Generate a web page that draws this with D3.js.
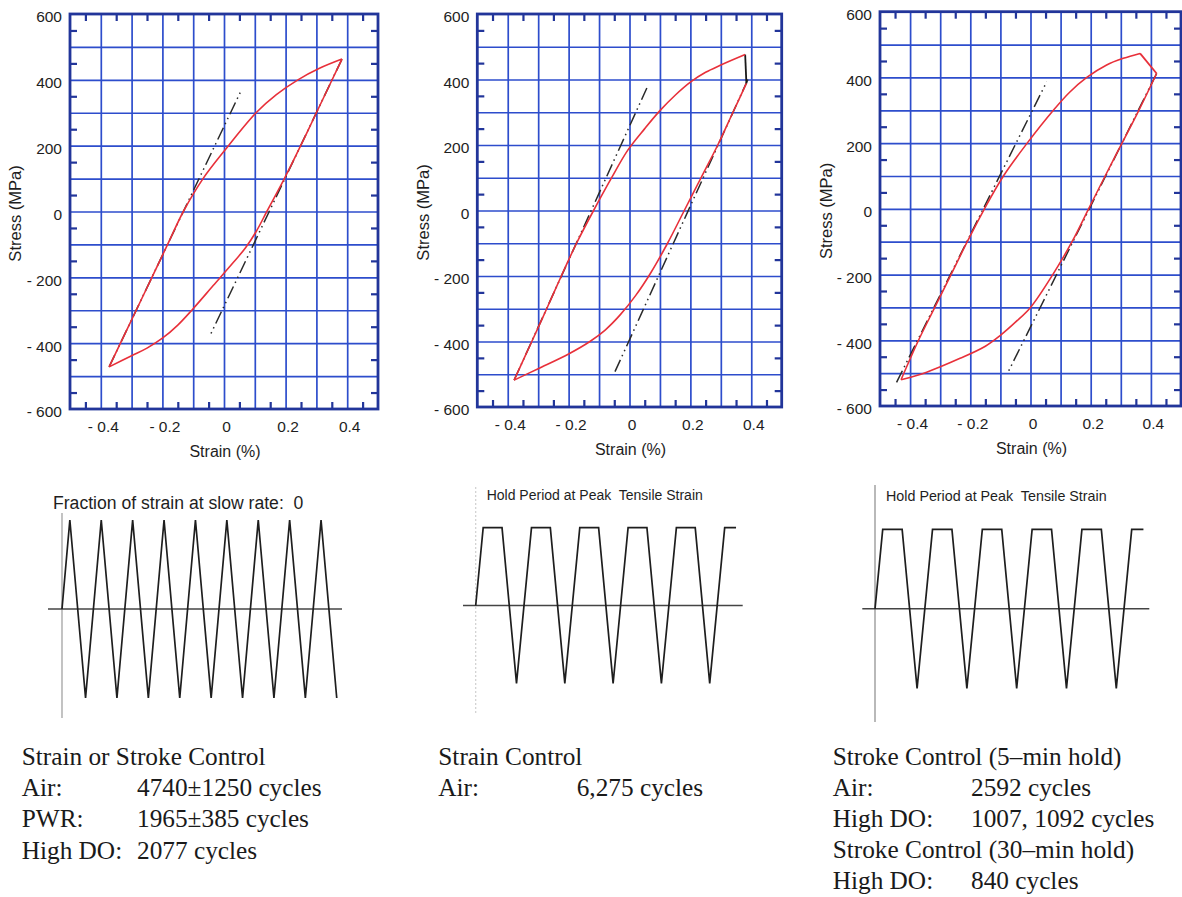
<!DOCTYPE html>
<html><head><meta charset="utf-8">
<script src="https://cdn.jsdelivr.net/npm/d3@7"></script>
<style>
html,body{margin:0;padding:0;background:#fff;}
svg{display:block;}
text{white-space:pre;}
</style></head>
<body>
<svg id="chart" width="1182" height="897"></svg>
<script>
// ---------------- DATA ----------------
const strainTicks = [-0.4, -0.2, 0, 0.2, 0.4];
const stressTicks = [-600, -400, -200, 0, 200, 400, 600];
const strainGrid = [-0.4, -0.3, -0.2, -0.1, 0, 0.1, 0.2, 0.3, 0.4];
const stressGrid = [-500, -400, -300, -200, -100, 0, 100, 200, 300, 400, 500];
const strainMinor = [-0.45, -0.35, -0.25, -0.15, -0.05, 0.05, 0.15, 0.25, 0.35, 0.45];
const stressMinor = [-550, -450, -350, -250, -150, -50, 50, 150, 250, 350, 450, 550];

// Panel 1: fully reversed, no hold
const loop1Loading = [[-0.373,-472],[-0.285,-300],[-0.234,-200],[-0.183,-100],[-0.132,0],[-0.068,100],[0,183],[0.104,300],[0.17,355],[0.24,400],[0.31,435],[0.383,463]];
const loop1Unloading = [[0.383,463],[0.3,300],[0.249,200],[0.196,100],[0.139,0],[0.105,-60],[0.07,-110],[0.03,-155],[-0.035,-225],[-0.101,-296],[-0.15,-345],[-0.2,-385],[-0.25,-415],[-0.3,-438],[-0.373,-472]];
const elastic1a = [[-0.373,-472],[0.057,370]];
const elastic1b = [[0.383,463],[-0.047,-380]];

// Panel 2: strain control, hold at peak tensile strain
const loop2Loading = [[-0.379,-518],[-0.321,-400],[-0.272,-300],[-0.224,-200],[-0.174,-100],[-0.118,0],[-0.06,98],[-0.005,185],[0.05,250],[0.1,305],[0.15,352],[0.2,392],[0.25,422],[0.3,444],[0.38,476]];
const loop2Hold = [[0.38,476],[0.384,388]];
const loop2Unloading = [[0.384,388],[0.34,300],[0.29,200],[0.235,100],[0.18,0],[0.125,-100],[0.07,-190],[0.02,-260],[-0.03,-318],[-0.08,-365],[-0.13,-400],[-0.2,-438],[-0.3,-483],[-0.379,-518]];
const elastic2a = [[-0.379,-518],[0.057,374]];
const elastic2b = [[0.389,400],[-0.053,-503]];

// Panel 3: stroke control, 5-min hold
const loop3Loading = [[-0.43,-520],[-0.372,-400],[-0.318,-300],[-0.264,-200],[-0.21,-100],[-0.153,0],[-0.09,100],[-0.011,200],[0.076,300],[0.13,355],[0.187,400],[0.253,438],[0.308,458],[0.364,473]];
const loop3Hold = [[0.364,473],[0.419,412]];
const loop3Unloading = [[0.419,412],[0.36,300],[0.304,200],[0.248,100],[0.193,0],[0.138,-100],[0.074,-200],[0,-300],[-0.05,-345],[-0.1,-385],[-0.15,-418],[-0.234,-455],[-0.345,-497],[-0.43,-520]];
const elastic3a = [[-0.445,-528],[0.054,387]];
const elastic3b = [[0.419,412],[-0.074,-496]];

// Waveforms (time in cycles, normalised strain)
const waveNoHold = [[0,0],[0.25,1],[0.75,-1],[1.25,1],[1.75,-1],[2.25,1],[2.75,-1],[3.25,1],[3.75,-1],[4.25,1],[4.75,-1],[5.25,1],[5.75,-1],[6.25,1],[6.75,-1],[7.25,1],[7.75,-1],[8.25,1],[8.75,-1]];
const waveHold = [[0,0],[0.155,1],[0.545,1],[0.845,-1],[1.155,1],[1.545,1],[1.845,-1],[2.155,1],[2.545,1],[2.845,-1],[3.155,1],[3.545,1],[3.845,-1],[4.155,1],[4.545,1],[4.845,-1],[5.155,1],[5.39,1]];

const waveTitles = ["Fraction of strain at slow rate:  0", "Hold Period at Peak  Tensile Strain", "Hold Period at Peak  Tensile Strain"];

const notes1 = [["Strain or Stroke Control",""],["Air:","4740\u00B11250 cycles"],["PWR:","1965\u00B1385 cycles"],["High DO:","2077 cycles"]];
const notes2 = [["Strain Control",""],["Air:","6,275 cycles"]];
const notes3 = [["Stroke Control (5\u2013min hold)",""],["Air:","2592 cycles"],["High DO:","1007, 1092 cycles"],["Stroke Control (30\u2013min hold)",""],["High DO:","840 cycles"]];

// ---------------- LAYOUT ----------------
const svg = d3.select("#chart");
const FRAME = "#22359a", GRID = "#2d4dcc", RED = "#e8303a", INK = "#1e1e1e";
const sans = "'Liberation Sans', Arial, Helvetica, sans-serif";
const serif = "'Liberation Serif', 'Times New Roman', serif";

const loopPanels = [
  {x0:70, x1:378, y0:14, y1:409, titleX:15, loading:loop1Loading, unloading:loop1Unloading, hold:null, holdColor:null, el:[elastic1a, elastic1b]},
  {x0:477.3, x1:781.7, y0:14, y1:407, titleX:423, loading:loop2Loading, unloading:loop2Unloading, hold:loop2Hold, holdColor:"#1a1a1a", el:[elastic2a, elastic2b]},
  {x0:880, x1:1181, y0:11.7, y1:406, titleX:826, loading:loop3Loading, unloading:loop3Unloading, hold:loop3Hold, holdColor:RED, el:[elastic3a, elastic3b]}
];

const fmtStrain = v => v < 0 ? "- " + Math.abs(v).toFixed(1) : (v === 0 ? "0" : v.toFixed(1));
const fmtStress = v => v < 0 ? "- " + Math.abs(v) : String(v);

loopPanels.forEach(p => {
  const x = d3.scaleLinear().domain([-0.5, 0.5]).range([p.x0, p.x1]);
  const y = d3.scaleLinear().domain([-600, 600]).range([p.y1, p.y0]);
  const W = p.x1 - p.x0, H = p.y1 - p.y0;
  const g = svg.append("g");

  // grid lines
  g.append("g").attr("transform", `translate(0,${p.y1})`)
    .call(d3.axisBottom(x).tickValues(strainGrid).tickSize(-H).tickFormat(""))
    .call(a => a.select(".domain").remove())
    .selectAll("line").attr("stroke", GRID).attr("stroke-width", 1.7);
  g.append("g").attr("transform", `translate(${p.x0},0)`)
    .call(d3.axisLeft(y).tickValues(stressGrid).tickSize(-W).tickFormat(""))
    .call(a => a.select(".domain").remove())
    .selectAll("line").attr("stroke", GRID).attr("stroke-width", 1.7);

  // minor ticks (inward on all sides)
  const minor = [
    [d3.axisBottom(x).tickValues(strainMinor), `translate(0,${p.y1})`],
    [d3.axisTop(x).tickValues(strainMinor), `translate(0,${p.y0})`],
    [d3.axisLeft(y).tickValues(stressMinor), `translate(${p.x0},0)`],
    [d3.axisRight(y).tickValues(stressMinor), `translate(${p.x1},0)`]
  ];
  minor.forEach(([ax, tr]) => {
    g.append("g").attr("transform", tr)
      .call(ax.tickSize(-7).tickFormat(""))
      .call(a => a.select(".domain").remove())
      .selectAll("line").attr("stroke", FRAME).attr("stroke-width", 2.2);
  });

  // frame
  g.append("rect").attr("x", p.x0).attr("y", p.y0).attr("width", W).attr("height", H)
    .attr("fill", "none").attr("stroke", FRAME).attr("stroke-width", 2.8);

  // tick labels
  const xl = g.append("g").attr("transform", `translate(2,${p.y1})`)
    .call(d3.axisBottom(x).tickValues(strainTicks).tickSize(0).tickPadding(12).tickFormat(fmtStrain));
  xl.select(".domain").remove();
  xl.selectAll("text").attr("font-family", sans).attr("font-size", 15.5).attr("fill", INK);
  const yl = g.append("g").attr("transform", `translate(${p.x0},3)`)
    .call(d3.axisLeft(y).tickValues(stressTicks).tickSize(0).tickPadding(8).tickFormat(fmtStress));
  yl.select(".domain").remove();
  yl.selectAll("text").attr("font-family", sans).attr("font-size", 15.5).attr("fill", INK);

  // axis titles
  g.append("text").attr("x", (p.x0 + p.x1) / 2 + 1).attr("y", p.y1 + 48)
    .attr("text-anchor", "middle").attr("font-family", sans).attr("font-size", 16).attr("fill", INK)
    .text("Strain (%)");
  g.append("text").attr("transform", `translate(${p.titleX},${(p.y0 + p.y1) / 2 + 2}) rotate(-90)`)
    .attr("text-anchor", "middle").attr("dy", "0.35em").attr("font-family", sans).attr("font-size", 16.5).attr("fill", INK)
    .text("Stress (MPa)");

  // elastic lines (dash-dot-dot)
  const line = d3.line().x(d => x(d[0])).y(d => y(d[1]));
  p.el.forEach(e => {
    g.append("path").attr("d", line(e)).attr("fill", "none").attr("stroke", "#2a2a2a")
      .attr("stroke-width", 1.5).attr("stroke-dasharray", "13,4,1.5,4,1.5,4");
  });

  // hysteresis loop
  const curve = d3.line().x(d => x(d[0])).y(d => y(d[1])).curve(d3.curveCatmullRom.alpha(0.5));
  if (p.hold) {
    g.append("path").attr("d", line(p.hold)).attr("fill", "none").attr("stroke", p.holdColor).attr("stroke-width", 1.8);
  }
  [p.loading, p.unloading].forEach(b => {
    g.append("path").attr("d", curve(b)).attr("fill", "none").attr("stroke", RED).attr("stroke-width", 1.6);
  });
});

// ---------------- WAVEFORMS ----------------
const wavePanels = [
  {data: waveNoHold, ox:62, per:31.4, top:520, bot:698, axY0:513, axY1:718, axColor:"#9a9a9a", axDash:null, hx0:48, hx1:342, tx:53, ty:509.3, tsize:17.6},
  {data: waveHold, ox:475.7, per:48.3, top:527.7, bot:683.3, axY0:487, axY1:713, axColor:"#cfcfcf", axDash:"2,2", hx0:463, hx1:742.7, tx:486.7, ty:500, tsize:14},
  {data: waveHold, ox:875, per:49.8, top:529.3, bot:688.3, axY0:485, axY1:722, axColor:"#8a8a8a", axDash:null, hx0:862.3, hx1:1149.3, tx:886, ty:500.7, tsize:14.3}
];

wavePanels.forEach((w, i) => {
  const x = d3.scaleLinear().domain([0, 1]).range([w.ox, w.ox + w.per]);
  const y = d3.scaleLinear().domain([-1, 1]).range([w.bot, w.top]);
  const g = svg.append("g");
  g.append("line").attr("x1", w.ox).attr("x2", w.ox).attr("y1", w.axY0).attr("y2", w.axY1)
    .attr("stroke", w.axColor).attr("stroke-width", 1.2).attr("stroke-dasharray", w.axDash);
  g.append("line").attr("x1", w.hx0).attr("x2", w.hx1).attr("y1", y(0)).attr("y2", y(0))
    .attr("stroke", "#444").attr("stroke-width", 1.4);
  g.append("path").attr("d", d3.line().x(d => x(d[0])).y(d => y(d[1]))(w.data))
    .attr("fill", "none").attr("stroke", "#1e1e1e").attr("stroke-width", 1.7).attr("stroke-linejoin", "miter");
  g.append("text").attr("x", w.tx).attr("y", w.ty).attr("font-family", sans).attr("font-size", w.tsize)
    .attr("fill", INK).text(waveTitles[i]);
});

// ---------------- NOTES ----------------
const noteBlocks = [
  {rows: notes1, x:21.7, vx:137, y0:765, dy:31.2},
  {rows: notes2, x:438.3, vx:576.7, y0:765, dy:31.2},
  {rows: notes3, x:832.7, vx:971, y0:765, dy:31}
];
noteBlocks.forEach(b => {
  const g = svg.append("g").attr("font-family", serif).attr("font-size", 25.3).attr("fill", "#1a1a1a");
  b.rows.forEach((r, i) => {
    g.append("text").attr("x", b.x).attr("y", b.y0 + i * b.dy).text(r[0]);
    if (r[1]) g.append("text").attr("x", b.vx).attr("y", b.y0 + i * b.dy).text(r[1]);
  });
});
</script>
</body></html>
